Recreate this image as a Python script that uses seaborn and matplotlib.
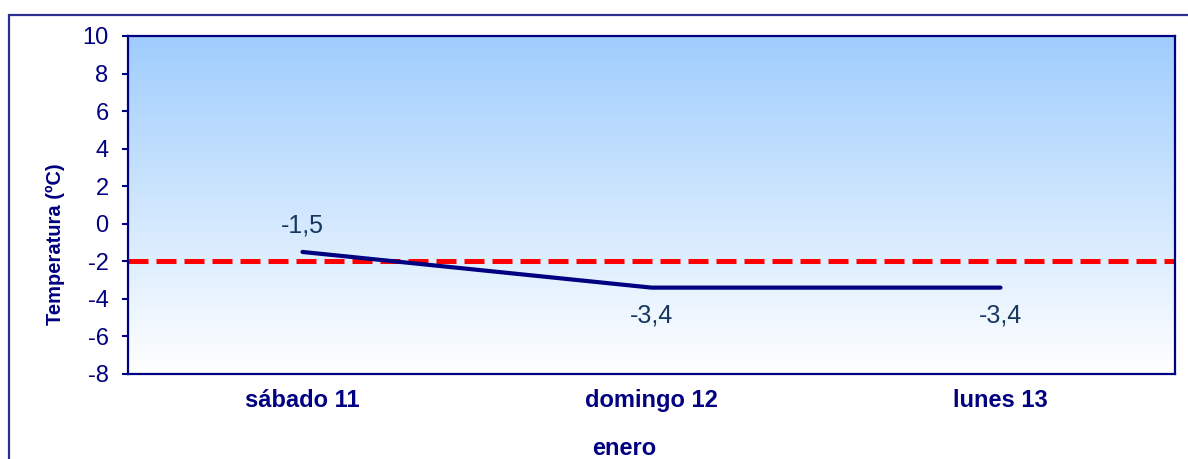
import matplotlib
matplotlib.use("Agg")
import matplotlib.pyplot as plt
import matplotlib.patches as mpatches
from matplotlib.colors import LinearSegmentedColormap
import numpy as np
import pandas as pd
import seaborn as sns

# Data
days = ["sábado 11", "domingo 12", "lunes 13"]
temps = [-1.5, -3.4, -3.4]
labels = ["-1,5", "-3,4", "-3,4"]
threshold = -2
y_ticks = [-8, -6, -4, -2, 0, 2, 4, 6, 8, 10]

navy = "#000080"
label_col = "#17375E"

sns.set_style("white")
plt.rcParams['font.family'] = ['Liberation Sans', 'DejaVu Sans']
plt.rcParams['axes.unicode_minus'] = False

fig = plt.figure(figsize=(11.88, 4.59), dpi=100)
ax = fig.add_axes([128 / 1188, 1 - 374 / 459, (1175 - 128) / 1188, (374 - 36) / 459])

# Outer chart border
fig.patches.append(mpatches.Rectangle((9 / 1188, -0.2), 1.2, 1.2 - 15 / 459,
                                      transform=fig.transFigure, fill=False,
                                      edgecolor="#2E2E8F", linewidth=1.6))

# Gradient background of the plot area
grad = LinearSegmentedColormap.from_list("bg", ["#FFFFFF", "#9FCDFD"])
ax.imshow(np.linspace(0, 1, 256).reshape(-1, 1), cmap=grad, aspect="auto",
          extent=[0, 1, 0, 1], transform=ax.transAxes, origin="lower", zorder=0)

df = pd.DataFrame({"dia": days, "temp": temps})
sns.lineplot(data=df, x="dia", y="temp", sort=False, color=navy, linewidth=3,
             solid_capstyle="round", ax=ax, zorder=3)

ax.axhline(threshold, color="#FF0000", linewidth=3.6, dashes=(4, 1.6), zorder=2)

for i, (v, t) in enumerate(zip(temps, labels)):
    off = 19 if i == 0 else -20
    ax.annotate(t, (i, v), xytext=(0, off), textcoords="offset points",
                ha="center", va="center", fontsize=18, color=label_col, zorder=4)

ax.set_xlim(-0.5, 2.5)
ax.set_ylim(-8, 10)
ax.set_yticks(y_ticks)
ax.tick_params(axis="y", direction="out", length=4, width=1.5, color=navy,
               labelsize=17, labelcolor=navy, pad=10, left=True)
ax.tick_params(axis="x", length=0, pad=11, labelsize=17, labelcolor=navy)
for lab in ax.get_xticklabels():
    lab.set_fontweight("bold")

for s in ax.spines.values():
    s.set_visible(True)
    s.set_color(navy)
    s.set_linewidth(1.6)

ax.set_xlabel("")
ax.set_ylabel("Temperatura (ºC)", fontsize=14.5, fontweight="bold", color=navy)
ax.yaxis.set_label_coords(-0.060, 0.385)
fig.text(624 / 1188, 1 - 455 / 459, "enero", fontsize=17, fontweight="bold",
         color=navy, ha="center", va="baseline")

fig.savefig("out.png", dpi=100)
